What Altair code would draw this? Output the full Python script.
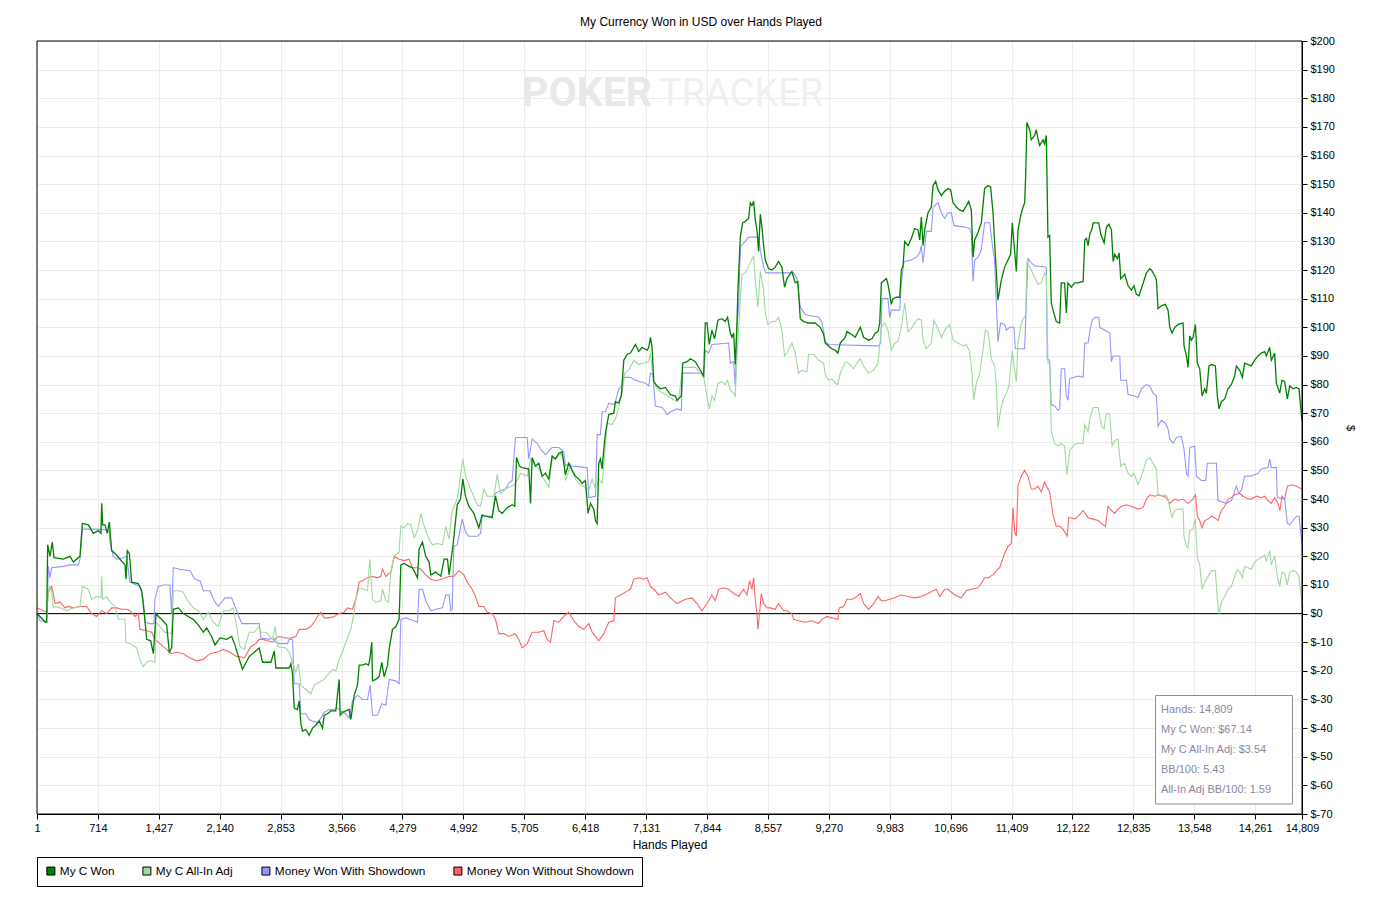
import altair as alt
import pandas as pd

TITLE = "My Currency Won in USD over Hands Played"
X_TITLE = "Hands Played"
Y_TITLE = "$"
SERIES = ["My C Won", "My C All-In Adj", "Money Won With Showdown", "Money Won Without Showdown"]
COLORS = ["#008000", "#9fd89f", "#9595ff", "#ff6464"]
X_TICKS = [1, 714, 1427, 2140, 2853, 3566, 4279, 4992, 5705, 6418, 7131, 7844, 8557,
           9270, 9983, 10696, 11409, 12122, 12835, 13548, 14261, 14809]
Y_TICKS = list(range(-70, 201, 10))
INFO_LINES = ["Hands: 14,809", "My C Won: $67.14", "My C All-In Adj: $3.54",
              "BB/100: 5.43", "All-In Adj BB/100: 1.59"]
WATERMARK = ["POKER", "TRACKER"]

# ---- My C Won ----
won_hands = [1, 36, 95, 114, 126, 153, 180, 200, 309, 387, 426, 504, 532, 602, 660, 719, 750, 758, 770, 797,
             824, 848, 875, 914, 973, 1031, 1043, 1058, 1082, 1109, 1187, 1226, 1257, 1285, 1332, 1363, 1394,
             1421, 1460, 1519, 1550, 1577, 1597, 1655, 1714, 1772, 1831, 1890, 1948, 1987, 2045, 2085, 2143,
             2221, 2280, 2319, 2358,
             2407, 2485, 2602, 2641, 2739, 2778, 2797, 2953, 2973, 2992, 3012, 3050, 3070, 3090, 3109, 3148,
             3187, 3226, 3265, 3304, 3343, 3363, 3402, 3441, 3499, 3538, 3550, 3577, 3616, 3655, 3675, 3714,
             3753, 3772, 3811, 3850, 3881, 3897, 3920, 3928, 3967, 4006, 4037, 4065, 4104, 4123, 4162, 4201,
             4240, 4260, 4299, 4357, 4396, 4455, 4474, 4513, 4552, 4591, 4611, 4669, 4728, 4767, 4806, 4825,
             4869, 4920, 4959, 4986, 5017, 5056, 5115, 5173, 5212, 5251, 5329, 5368, 5407, 5446, 5505, 5563,
             5594, 5614, 5649, 5680, 5758, 5778, 5797, 5836, 5875, 5914, 5953, 5992, 6031, 6070, 6109, 6148,
             6187, 6226, 6265, 6304, 6343, 6382, 6421, 6452, 6480, 6519, 6538, 6558, 6577, 6597, 6616, 6636,
             6655, 6694, 6753, 6772, 6811, 6842, 6870, 6909, 6948, 7006, 7045, 7084, 7143, 7162, 7182, 7201,
             7221, 7260, 7299, 7357, 7416, 7474, 7494,
             7512, 7543, 7559, 7610, 7649, 7707, 7766, 7805, 7824, 7844, 7871, 7902, 7933, 7972, 8019, 8058,
             8085, 8117, 8136, 8156, 8175, 8195, 8206, 8234, 8261, 8292, 8331, 8351, 8370, 8390, 8409, 8429,
             8448, 8468, 8487, 8507, 8526, 8565, 8604, 8643, 8682, 8721, 8752, 8780, 8838, 8877, 8908, 8936,
             8975, 9033, 9111, 9170, 9209, 9228, 9267, 9306, 9345, 9376, 9404, 9462, 9482, 9540, 9579, 9638,
             9677, 9735, 9774, 9813,
             9846, 9866, 9885, 9924, 9944, 9963, 9983, 10002, 10022, 10061, 10100, 10119, 10139, 10158, 10197,
             10236, 10275, 10314, 10334, 10353, 10373, 10392, 10431, 10470, 10490, 10521, 10548, 10587, 10626,
             10665, 10696, 10724, 10763, 10802, 10841, 10880, 10907, 10938, 10958, 10977, 11016, 11055, 11094,
             11133, 11164, 11192, 11211, 11250, 11289, 11328, 11367, 11398, 11418, 11437, 11465, 11484, 11523,
             11562, 11574, 11589, 11621, 11640, 11679, 11699, 11718, 11738, 11777, 11796, 11816, 11835, 11855,
             11874, 11894, 11933, 11972, 11991, 12030, 12050, 12069, 12108, 12147, 12186,
             12247, 12266, 12286, 12305, 12325, 12352, 12364, 12403, 12430, 12453, 12492, 12520, 12547, 12578,
             12598, 12617, 12648, 12668, 12687, 12734, 12773, 12812, 12843, 12870, 12902, 12929, 12988, 13027,
             13046, 13085, 13105, 13124, 13163, 13210, 13241, 13261, 13288, 13319, 13358, 13417, 13428, 13456,
             13475, 13495, 13514, 13534, 13561, 13584, 13612, 13639, 13670, 13690, 13721, 13748, 13795, 13818,
             13838, 13865, 13904, 13943, 13982, 14021, 14041, 14080, 14111, 14138, 14177, 14216, 14255, 14294,
             14333, 14372, 14392, 14431, 14450, 14489, 14509, 14548, 14575, 14606, 14637, 14665, 14704, 14743,
             14774, 14809]
won_usd = [0, -1, -3, -3, 24, 20, 25, 19.5, 19, 20, 18, 20, 31.5, 31, 28, 29, 28, 38.5, 31, 31,
           28, 32, 22, 21, 19, 17, 12, 22, 21, 11, 10.5, 8, 0, -9, -9.5, -14, 0,
           -1, -2, -4, -13.5, -12, 1.5, 2, 0, -1, -2, -4, -6.5, -5, -8, -11, -8.5,
           -9, -8, -11, -15,
           -19.5, -15, -12, -17, -17, -13, -19, -19, -17.5, -21, -33, -33.5, -30.5, -38.5, -41, -40.5,
           -42.5, -40, -39, -37.5, -40, -35.5, -35, -34, -34, -23, -35.5, -34.5, -34, -33.5, -37, -28.5,
           -25, -18, -18, -17.5, -18, -16, -10, -23.5, -23, -22, -17, -22, -18, -12.5, -5.5, -4.5,
           -2, 17, 17.5, 16.5, 16, 12.5, 22.5, 25, 20, 18, 13.5, 14.5, 13, 19, 19, 13.5,
           23.5, 38, 40, 47, 41, 37.5, 35, 30, 34.5, 34, 33.5, 41, 36, 35, 37, 38,
           37.5, 54.5, 51.5, 51, 50.5, 38.5, 54.5, 51.5, 52.5, 48, 49, 47, 55, 54, 56, 56.5,
           48.5, 52.5, 50, 48, 47, 45.5, 46.5, 35, 38.5, 36.5, 32.5, 31.5, 52.5, 54, 50.5, 57.5,
           63, 69.5, 70, 74, 73.5, 76.5, 88.5, 90.5, 91, 94, 91.5, 93, 92, 93, 96.5, 93,
           81, 79.5, 78.5, 79, 76.5, 76, 74.5,
           75, 76, 87.5, 88, 89, 88, 85, 83, 101.5, 101.5, 94, 99, 96, 102.5, 103, 102,
           103.5, 98, 96.5, 98, 87, 101.5, 113, 131.5, 136.5, 137, 138, 143.5, 142.5, 144, 137.5, 134,
           126.5, 139.5, 135, 128.5, 123.5, 120.5, 120, 121, 123, 121, 114, 117, 119.5, 115.5, 116, 103,
           102, 101.5, 101.5, 100, 97.5, 94.5, 93.5, 92.5, 92, 91, 94.5, 96.5, 98.5, 97.5, 96.5, 100,
           96.5, 95.5, 96, 98,
           98.5, 101.5, 115.5, 116.5, 117, 115, 111.5, 108, 110, 110.5, 110.5, 120, 121.5, 130, 128.5,
           131, 134.5, 134, 130.5, 138.5, 128.5, 134, 140, 142, 149.5, 151, 148, 146, 147.5,
           148.5, 148, 143.5, 142, 141, 140.5, 142.5, 144, 141, 124.5, 130.5, 133, 136.5, 148.5,
           149.5, 149, 140, 129.5, 109.5, 116.5, 121, 123.5, 125.5, 136.5, 129.5, 119.5, 134, 140,
           143.5, 152.5, 171.5, 169, 165.5, 167, 169, 166, 163.5, 165.5, 164, 167, 131.5, 132,
           108.5, 106, 102, 101.5, 115.5, 115.5, 105, 115.5, 114, 115.5, 115.5,
           116, 130.5, 131, 128.5, 132.5, 134.5, 136.5, 136.5, 136.5, 132.5, 129.5, 135, 136, 134,
           123, 125.5, 124, 126, 117, 118.5, 114.5, 113, 114.5, 111.5, 111, 113.5, 119, 120.5,
           120, 118, 116.5, 106.5, 107.5, 108, 106, 100, 98, 100, 101, 101.5, 93.5, 90,
           86, 97, 95.5, 96.5, 101, 87.5, 85.5, 76, 78.5, 77, 86.5, 87, 86.5, 76,
           71.5, 74, 75, 78.5, 80, 83, 86.5, 85, 82.5, 87.5, 87, 86.5, 88.5, 90,
           91, 91.5, 90, 93, 88.5, 91, 80.5, 77, 81.5, 81, 75, 79.5, 78.5, 79,
           78.5, 67.14]

# ---- My C All-In Adj ----
adj_hands = [1, 36, 114, 134, 153, 173, 192, 212, 270, 348, 426, 504, 532, 602, 641, 699, 750, 758, 770, 816,
             855, 914, 953, 1031, 1043, 1089, 1167, 1206, 1245, 1285, 1324, 1382, 1394, 1440, 1499, 1577,
             1597, 1655, 1714, 1753, 1831, 1890, 1948, 2006, 2064, 2123, 2182, 2260, 2299, 2338, 2377,
             2427, 2485, 2544, 2602, 2622, 2680, 2758, 2789, 2817, 2914, 2953, 2992, 3031, 3062, 3090, 3148,
             3207, 3246, 3304, 3363, 3402, 3460, 3499, 3538, 3577, 3616, 3675, 3714, 3733, 3772, 3831, 3870,
             3897, 3928, 3967, 4026, 4045, 4084, 4115, 4143, 4182, 4240, 4260, 4299, 4338, 4377, 4416, 4455,
             4494, 4533, 4591, 4630, 4689, 4747, 4786, 4825,
             4861, 4920, 4986, 5017, 5076, 5154, 5193, 5232, 5271, 5349, 5388, 5427, 5505, 5563, 5602, 5661,
             5739, 5778, 5817, 5875, 5934, 5992, 6031, 6090, 6129, 6168, 6187, 6246, 6304, 6363, 6421, 6460,
             6499, 6538, 6577, 6616, 6636, 6675, 6733, 6772, 6811, 6850, 6881, 6928, 6987, 7045, 7104, 7162,
             7182, 7221, 7299, 7416, 7494,
             7512, 7559, 7707, 7805, 7824, 7871, 7902, 7933, 7972, 8019, 8058, 8085, 8117, 8156, 8175, 8195,
             8214, 8253, 8292, 8351, 8390, 8409, 8440, 8468, 8507, 8526, 8557, 8604, 8643, 8682, 8721, 8752,
             8780, 8838, 8877, 8916, 8955, 9014, 9033, 9092, 9150, 9209, 9228, 9267, 9306, 9345, 9376, 9404,
             9462, 9501, 9560, 9599, 9638, 9677, 9735, 9794,
             9846, 9885, 9924, 9963, 10002, 10041, 10080, 10119, 10158, 10197, 10236, 10275, 10314, 10353,
             10373, 10412, 10470, 10501, 10540, 10587, 10626, 10685, 10724, 10782, 10841, 10880, 10919, 10946,
             10965, 10997, 11036, 11075, 11102, 11133, 11172, 11211, 11231, 11250, 11281, 11309, 11348, 11379,
             11418, 11445, 11465, 11484, 11523, 11574, 11589, 11640, 11679, 11718, 11757, 11796, 11816, 11835,
             11855, 11874, 11913, 11952, 11991, 12030, 12057, 12089, 12147, 12186,
             12247, 12266, 12305, 12325, 12364, 12422, 12461, 12492, 12520, 12559, 12586, 12617, 12656, 12687,
             12734, 12773, 12812, 12843, 12890, 12929, 12988, 13027, 13066, 13105, 13124, 13163, 13210, 13241,
             13261, 13288, 13319, 13358, 13417, 13428, 13456, 13475, 13495, 13534, 13561, 13584, 13612, 13639,
             13670, 13709, 13748, 13795, 13818, 13838, 13865, 13904, 13943, 13982, 14021, 14052, 14080, 14111,
             14138, 14177, 14216, 14255, 14294, 14333, 14372, 14392, 14431, 14450, 14489, 14520, 14548, 14575,
             14606, 14637, 14665, 14704, 14743, 14774, 14809]
adj_usd = [0, -1, -3, 8.5, 9.5, 8, 2, 2.5, 2, 1, 2, 2.5, 9.5, 8.5, 5, 6, 5.5, 13, 5, 6,
           4, 2.5, -2, -2, -10, -10.5, -12, -16, -18.5, -17, -16.5, -17, -3, -4.5, -6.5, -7,
           8, 8, 7.5, 5, 2, 1, -2, 0.5, -3, -4.5, 1, 1, 2, -4.5, -11.5,
           -12.5, -6.5, -6.5, -4.5, -6.5, -6.5, -9, -4.5, -11.5, -12, -13.5, -17, -20.5, -17.5, -25, -26.5,
           -28, -25, -24, -23, -21.5, -19.5, -20, -16, -13.5, -10, -5.5, 0.5, 5, 9, 8.5, 8,
           19, 5, 4, 4.5, 8.5, 4.5, 4, 14.5, 20, 21.5, 30.5, 30, 31.5, 31, 26.5, 29,
           35, 30.5, 26, 24, 24.5, 24, 30.5, 26,
           36, 40, 54, 48, 43.5, 38, 37.5, 43.5, 41, 41, 48.5, 42, 44, 44.5, 45.5, 49,
           48, 54, 52.5, 50.5, 47, 44, 54, 54.5, 56, 54, 46.5, 51.5, 47, 45, 44, 43,
           47, 43.5, 47, 45.5, 51.5, 66.5, 66, 68, 72, 77, 84, 85, 88.5, 87, 87.5, 88,
           91, 80, 77.5, 75.5, 74,
           75, 86, 86, 82.5, 79.5, 71.5, 76, 74.5, 80.5, 81, 80, 81.5, 78, 77, 76, 90,
           99, 118.5, 119, 122.5, 125, 116.5, 107, 119.5, 113, 105, 101, 102, 102, 103.5, 99, 90,
           91, 94.5, 91, 84, 85, 84.5, 90.5, 90.5, 88.5, 87.5, 83.5, 81.5, 82, 80.5, 80, 84,
           88, 87.5, 85.5, 87.5, 89, 86.5, 84, 85,
           87.5, 100, 101.5, 99, 92, 94.5, 95, 100, 108.5, 98.5, 99.5, 101.5, 103, 102.5,
           95.5, 92.5, 94.5, 102.5, 100, 96.5, 99, 101, 95.5, 94.5, 93.5, 94, 91.5, 84,
           74.5, 80.5, 84, 92, 99, 98.5, 89, 86.5, 79.5, 65, 71, 74.5, 77, 79.5,
           92, 85, 81, 94.5, 101.5, 104.5, 123, 120, 117.5, 115, 115.5, 119, 118, 87.5,
           87.5, 64, 59.5, 58.5, 59.5, 58.5, 48.5, 57, 59, 59.5,
           59.5, 66, 63.5, 68, 72, 72, 65.5, 64.5, 70, 69.5, 58.5, 60.5, 61, 51.5,
           52.5, 49, 48, 49, 45, 48, 53.5, 54.5, 52.5, 50.5, 41.5, 41, 41.5, 40,
           37, 33.5, 36, 36.5, 36.5, 27, 23.5, 23, 29, 29.5, 33, 19.5, 17, 8.5,
           11, 13, 15, 15, 5, 0, 4, 6, 8.5, 9.5, 13, 15.5, 14.5, 12.5,
           16.5, 16, 15.5, 18, 19, 19.5, 20.5, 18.5, 22, 17, 20, 13, 9.5, 14.5,
           14, 10, 14.5, 15, 14.5, 13, 3.54]

# ---- Money Won With Showdown ----
sd_hands = [1, 36, 114, 134, 153, 173, 309, 387, 485, 504, 532, 719, 848, 855, 894, 933, 1011, 1050, 1089,
            1167, 1206, 1245, 1265, 1324, 1370, 1382, 1421, 1479, 1557, 1577, 1597, 1674, 1792, 1850, 1909,
            1948, 2026, 2085, 2123, 2201, 2280, 2319, 2338, 2377,
            2400, 2602, 2622, 2719, 2758, 2797, 2836, 2934, 2953, 2992, 3012, 3070, 3090, 3148, 3187, 3226,
            3285, 3324, 3363, 3421, 3480, 3519, 3558, 3616, 3655, 3694, 3753, 3811, 3870, 3901, 3928, 3987,
            4037, 4084, 4123, 4201, 4240, 4260, 4318, 4357, 4416, 4455, 4474, 4513, 4552, 4611, 4669, 4747,
            4786, 4825, 4845,
            4861, 4869, 4881, 4920, 4978, 5017, 5056, 5154, 5193, 5212, 5329, 5368, 5427, 5485, 5524, 5563,
            5602, 5739, 5758, 5797, 5856, 5895, 5953, 6031, 6109, 6168, 6187, 6226, 6265, 6441, 6460, 6538,
            6558, 6597, 6616, 6655, 6694, 6753, 6772, 6811, 6850, 6870, 6948, 7006, 7065, 7123, 7162, 7182,
            7209, 7240, 7318, 7357, 7377, 7416, 7494,
            7543, 7559, 7785, 7805, 7824, 7863, 7902, 8097, 8117, 8156, 8175, 8195, 8214, 8234, 8331, 8448,
            8468, 8507, 8534, 8858, 8897, 8936, 8994, 9150, 9189, 9228, 9267, 9813,
            9846, 9877, 9893, 9963, 9983, 10002, 10100, 10119, 10150, 10236, 10295, 10334, 10353, 10373,
            10412, 10470, 10490, 10548, 10587, 10626, 10665, 10704, 10735, 10860, 10919, 10938, 10958, 10977,
            11016, 11055, 11094, 11153, 11192, 11211, 11231, 11250, 11281, 11328, 11348, 11387, 11437, 11453,
            11562, 11582, 11601, 11640, 11679, 11816, 11827, 11855, 11874, 11913, 11952, 11972, 11991, 12030,
            12050, 12069, 12089, 12186,
            12247, 12266, 12305, 12325, 12352, 12383, 12430, 12442, 12500, 12559, 12578, 12598, 12676, 12687,
            12754, 12773, 12851, 12890, 12929, 12988, 13027, 13066, 13105, 13124, 13163, 13210, 13241, 13261,
            13300, 13339, 13397, 13428, 13456, 13475, 13495, 13553, 13573, 13631, 13682, 13701, 13807, 13826,
            13924, 13982, 14002, 14041, 14068, 14099, 14138, 14216, 14294, 14333, 14411, 14431, 14450, 14509,
            14520, 14606, 14637, 14665, 14743, 14774, 14809]
sd_usd = [0, -2.5, -3, 16.5, 12.5, 16, 16.5, 17, 17, 19, 29.5, 29.5, 29, 25, 20, 19, 19.5, 20, 11,
          10, 9.5, 5, -3, -3.5, -3.5, 5, 9.5, 10, 10, 0, 16, 15.5, 15, 12, 11.5,
          8, 8, 4, 2.5, 5.5, 5.5, 2.5, 1, -2,
          -3.5, -3.5, -8.5, -9, -8.5, -10, -10.5, -10.5, -9, -9, -24.5, -24.5, -35, -35, -37, -37.5,
          -38, -36.5, -34.5, -33.5, -33.5, -33, -34, -35, -36.5, -30.5, -28.5, -30, -30, -25, -35.5, -35.5,
          -31.5, -32, -23, -23.5, -24.5, -2, -1.5, -2, -2.5, -3, 8.5, 8.5, 4.5, 1, 1.5, 2,
          6.5, 6.5, 1,
          1.5, 12, 23.5, 24, 33, 28.5, 27, 27, 28, 34, 34, 42, 43, 43.5, 45.5, 46.5,
          61.5, 61.5, 54, 61, 59.5, 57.5, 55.5, 58, 58, 56.5, 51.5, 52.5, 51.5, 51, 40.5, 41,
          62.5, 62.5, 70.5, 70.5, 73.5, 73, 74, 78.5, 79.5, 82.5, 82.5, 81.5, 81, 80.5, 79.5, 84,
          83.5, 72.5, 72, 70.5, 69.5, 70.5, 71.5,
          71, 84, 84, 83, 92, 91, 94, 94.5, 87.5, 88, 79.5, 100, 107, 128, 131.5, 131.5,
          127, 121, 119, 119, 117, 107, 104.5, 103.5, 102, 95, 94, 93.5,
          93.5, 94.5, 110, 110, 103.5, 106, 106, 115.5, 123, 123.5, 124.5, 126, 128.5, 122.5,
          133.5, 133.5, 142, 143.5, 140, 138, 140, 140, 135.5, 135, 134.5, 133, 116, 123.5,
          124.5, 127, 136.5, 136.5, 127, 123.5, 108.5, 95, 101.5, 101, 99, 100, 100, 92.5,
          92.5, 108.5, 124, 122.5, 121.5, 121, 89, 88.5, 73, 72.5, 71, 71.5, 85.5, 85.5,
          76, 74.5, 82, 83,
          82.5, 94.5, 94.5, 98.5, 102.5, 103.5, 103.5, 100, 99, 98, 88, 90, 90, 81.5,
          81.5, 76.5, 76, 75.5, 78.5, 80, 79.5, 77, 76, 65.5, 67.5, 66.5, 64.5, 61,
          59.5, 61.5, 62, 57.5, 49, 48, 58, 58.5, 48, 46.5, 46.5, 52.5, 52.5, 39.5,
          38.5, 39.5, 41, 44.5, 42, 43, 48, 48, 49, 50.5, 51, 54, 51, 51,
          40.5, 40, 31.5, 31, 34, 34, 24]

# ---- Money Won Without Showdown ----
nsd_hands = [1, 36, 75, 114, 134, 173, 192, 212, 270, 329, 368, 426, 504, 582, 641, 699, 758, 816, 875, 933,
             992, 1050, 1089, 1148, 1187, 1206, 1285, 1343, 1382, 1440, 1518, 1577, 1635, 1713, 1791, 1869,
             1947, 2025, 2103, 2181, 2259, 2337,
             2368, 2427, 2466, 2505, 2563, 2602, 2641, 2700, 2758, 2797, 2836, 2914, 2973, 3031, 3070, 3148,
             3207, 3246, 3285, 3324, 3363, 3421, 3480, 3538, 3597, 3636, 3694, 3733, 3772, 3811, 3870, 3928,
             3987, 4026, 4045, 4084, 4143, 4182, 4240, 4299, 4357, 4396, 4455, 4494, 4552, 4611, 4669, 4728,
             4786,
             4822, 4881, 4939, 4998, 5036, 5095, 5134, 5173, 5232, 5271, 5329, 5368, 5407, 5466, 5524, 5602,
             5641, 5680, 5739, 5797, 5875, 5934, 5973, 6012, 6051, 6109, 6168, 6226, 6285, 6343, 6402, 6460,
             6499, 6538, 6577, 6636, 6694, 6753, 6772, 6831, 6889, 6948, 6987, 7045, 7104, 7143, 7182, 7221,
             7279, 7357, 7416, 7494,
             7590, 7668, 7727, 7785, 7844, 7902, 7941, 7980, 8039, 8097, 8156, 8214, 8273, 8312, 8343, 8370,
             8390, 8409, 8429, 8440, 8456, 8479, 8507, 8546, 8585, 8643, 8682, 8741, 8780, 8838, 8858, 8916,
             8994, 9072, 9150, 9189, 9248, 9306, 9376, 9392, 9443, 9482, 9540, 9579, 9638, 9677, 9735, 9794,
             9846, 9885, 9924, 9983, 10041, 10119, 10197, 10275, 10353, 10431, 10490, 10529, 10568, 10626,
             10665, 10743, 10821, 10880, 10938, 11016, 11055, 11094, 11133, 11192, 11231, 11270, 11328, 11367,
             11406, 11426, 11445, 11465, 11484, 11523, 11562, 11601, 11640, 11679, 11718, 11757, 11796, 11835,
             11855, 11894, 11933, 11972, 12011, 12061, 12077, 12108, 12147, 12186,
             12247, 12305, 12364, 12422, 12481, 12508, 12539, 12578, 12617, 12656, 12695, 12754, 12812, 12890,
             12949, 12988, 13027, 13085, 13144, 13222, 13261, 13319, 13358, 13417, 13475, 13534, 13561, 13584,
             13612, 13639, 13670, 13709, 13748, 13787, 13826, 13865, 13904, 13943, 13982, 14021, 14080, 14119,
             14177, 14216, 14275, 14333, 14372, 14411, 14450, 14489, 14528, 14551, 14575, 14606, 14637, 14684,
             14743, 14809]
nsd_usd = [2, 1.5, 1, 0.5, 7.5, 9.5, 7, 3.5, 4, 2, 2.5, 2, 2.5, 2.5, 0, -1, 1, 0, 2, 2,
           1.5, 1.5, 1, -1, 0, -5.5, -6, -6.5, -9, -10.5, -12.5, -14, -13.5, -14, -15.5, -16.5,
           -16, -14, -13.5, -12.5, -13.5, -15,
           -15, -15.5, -13.5, -11.5, -10.5, -9, -9, -9.5, -10, -8.5, -8, -8.5, -8.5, -8, -5.5, -5.5,
           -4.5, -3, -1, 0.5, -1.5, -1.5, -1, 0, 0.5, 2, 1.5, 5, 11, 11.5, 12.5, 13,
           12.5, 13, 15.5, 13, 14.5, 20, 19, 18.5, 19, 16, 16, 15.5, 13.5, 12, 11.5, 12,
           12.5,
           13, 13, 15, 13.5, 11, 8.5, 6, 2.5, 2.5, 0.5, 0, -2, -7, -7, -8, -7,
           -9, -12, -10.5, -6.5, -6.5, -6, -9, -10, -2.5, -3, -1, 0.5, -2.5, -4.5, -5.5, -3.5,
           -6.5, -8, -9.5, -7, -3, -2.5, 5.5, 6.5, 7.5, 8.5, 12, 12.5, 12, 12.5, 9.5, 8.5,
           6.5, 7.5, 5.5, 3.5,
           5, 5.5, 3.5, 1, 3.5, 6.5, 4.5, 8.5, 9, 8.5, 7, 6, 8.5, 6.5, 11.5, 8.5,
           12.5, 5, 0, -5.5, -1, 7, 3.5, 2, 2, 1.5, 3.5, 1, 1, 0, -2, -2.5,
           -3, -2.5, -3.5, -2, -1, -1.5, -2, 2, 2.5, 5, 5, 5.5, 7, 3.5, 1.5, 3.5,
           6, 4.5, 4.5, 5, 5.5, 6.5, 6, 5.5, 6, 7, 8, 8.5, 6, 8.5,
           8.5, 6.5, 5.5, 8, 8.5, 9, 10.5, 12.5, 12.5, 13.5, 15, 16, 21, 23.5,
           24.5, 37, 28.5, 27, 44.5, 48, 50, 48, 43.5, 43.5, 44.5, 42.5, 46, 43.5,
           42.5, 34.5, 30.5, 30.5, 29.5, 27, 33.5, 33.5, 33, 34,
           36, 33.5, 33, 32.5, 31, 30.5, 37.5, 36, 35, 36.5, 37.5, 38, 37.5, 36.5,
           37, 40, 41.5, 41, 41.5, 40.5, 38.5, 40, 39.5, 40, 38.5, 40, 41.5, 34,
           32.5, 30, 32.5, 33, 34, 33.5, 32.5, 36, 37.5, 40, 40.5, 41.5, 42, 41,
           40, 40, 41, 40.5, 41, 39.5, 38.5, 40.5, 38.5, 36, 41, 40, 44.5, 45,
           44.5, 43.5]

series_data = [
    (SERIES[3], nsd_hands, nsd_usd, COLORS[3], 1.1),
    (SERIES[2], sd_hands, sd_usd, COLORS[2], 1.1),
    (SERIES[1], adj_hands, adj_usd, COLORS[1], 1.1),
    (SERIES[0], won_hands, won_usd, COLORS[0], 1.3),
]

frames = [pd.DataFrame({"hand": h, "usd": v, "series": n}) for n, h, v, _, _ in series_data]
df = pd.concat(frames, ignore_index=True)

FONT = "Liberation Sans"
W, H = 1265, 773

x_scale = alt.Scale(domain=[1, 14809], nice=False, zero=False)
y_scale = alt.Scale(domain=[-70, 200], nice=False, zero=False)

x_axis = alt.Axis(values=X_TICKS, format=",d", labelFlush=False, labelOverlap=False, title=X_TITLE,
                  grid=True, gridColor="#ebebeb", tickSize=5, tickColor="black", domainColor="black",
                  labelFont=FONT, labelFontSize=11, labelColor="black", labelPadding=3,
                  titleFont=FONT, titleFontSize=12, titleFontWeight="normal", titleColor="black",
                  titlePadding=6)
y_axis = alt.Axis(orient="right", values=Y_TICKS, labelExpr="'$' + datum.value", title=Y_TITLE,
                  grid=True, gridColor="#ebebeb", tickSize=5, tickColor="black", domainColor="black",
                  labelFont=FONT, labelFontSize=11, labelColor="black", labelPadding=3, labelOverlap=False,
                  titleFont=FONT, titleFontSize=11, titleFontWeight="normal", titleColor="black",
                  titlePadding=10)

X = alt.X("hand:Q", scale=x_scale, axis=x_axis)
Y = alt.Y("usd:Q", scale=y_scale, axis=y_axis)

layers = []

# watermark
wm = alt.Chart(pd.DataFrame({"k": [0]}))
layers.append(wm.mark_text(align="left", baseline="alphabetic", font="Roboto",
                           fontSize=41, fontWeight="bold", color="#e8e8e8").encode(
    x=alt.value(485), y=alt.value(65), text=alt.value(WATERMARK[0])))
layers.append(wm.mark_text(align="left", baseline="alphabetic", font="Roboto",
                           fontSize=38, fontWeight="normal", color="#efefef").encode(
    x=alt.value(622), y=alt.value(65), text=alt.value(WATERMARK[1])))

# zero line
layers.append(alt.Chart(pd.DataFrame({"usd": [0]})).mark_rule(color="black", strokeWidth=1).encode(y=Y))

# series lines
for name, h, v, col, sw in series_data:
    layers.append(
        alt.Chart(df).transform_filter(alt.datum.series == name)
        .mark_line(color=col, strokeWidth=sw, interpolate="linear")
        .encode(x=X, y=Y)
    )

# plot frame on top of the grid
layers.append(wm.mark_rect(fillOpacity=0, stroke="black", strokeWidth=1).encode(
    x=alt.value(0), x2=alt.value(W), y=alt.value(0), y2=alt.value(H)))

# legend (drawn from the colour scale only)
layers.append(
    alt.Chart(df).transform_filter("false").mark_point(shape="square", filled=True)
    .encode(
        x=X, y=Y,
        fill=alt.Fill("series:N", scale=alt.Scale(domain=SERIES, range=COLORS),
                      legend=alt.Legend(title=None, orient="none", legendX=0, legendY=816,
                                        direction="horizontal", symbolType="square", symbolSize=64,
                                        symbolStrokeColor="black", symbolStrokeWidth=1, symbolOpacity=1,
                                        labelFont=FONT, labelFontSize=11.8, labelColor="black",
                                        labelOffset=3, columnPadding=25, padding=8, labelLimit=400,
                                        strokeColor="black", fillColor="white")),
    )
)

# info box
box = alt.Chart(pd.DataFrame({"k": [0]}))
layers.append(box.mark_rect(fill="white", stroke="#8c8c8c", strokeWidth=1).encode(
    x=alt.value(1118.5), x2=alt.value(1255.5), y=alt.value(654.5), y2=alt.value(763)))
for i, line in enumerate(INFO_LINES):
    layers.append(box.mark_text(align="left", baseline="alphabetic", font=FONT, fontSize=11,
                                color="#8c879e").encode(
        x=alt.value(1124), y=alt.value(671.5 + 20 * i), text=alt.value(line)))

# title
layers.append(box.mark_text(align="center", baseline="alphabetic", font=FONT, fontSize=12,
                            color="black").encode(
    x=alt.value(664), y=alt.value(-15.5), text=alt.value(TITLE)))

chart = alt.layer(*layers).properties(
    width=W, height=H,
    autosize=alt.AutoSizeParams(type="none"),
    padding={"left": 29, "top": 33, "right": 70, "bottom": 78},
    background="white",
).configure_view(stroke="black", strokeWidth=1).configure(font=FONT)

chart.save("out.html", embed_options={"renderer": "svg", "actions": False})
